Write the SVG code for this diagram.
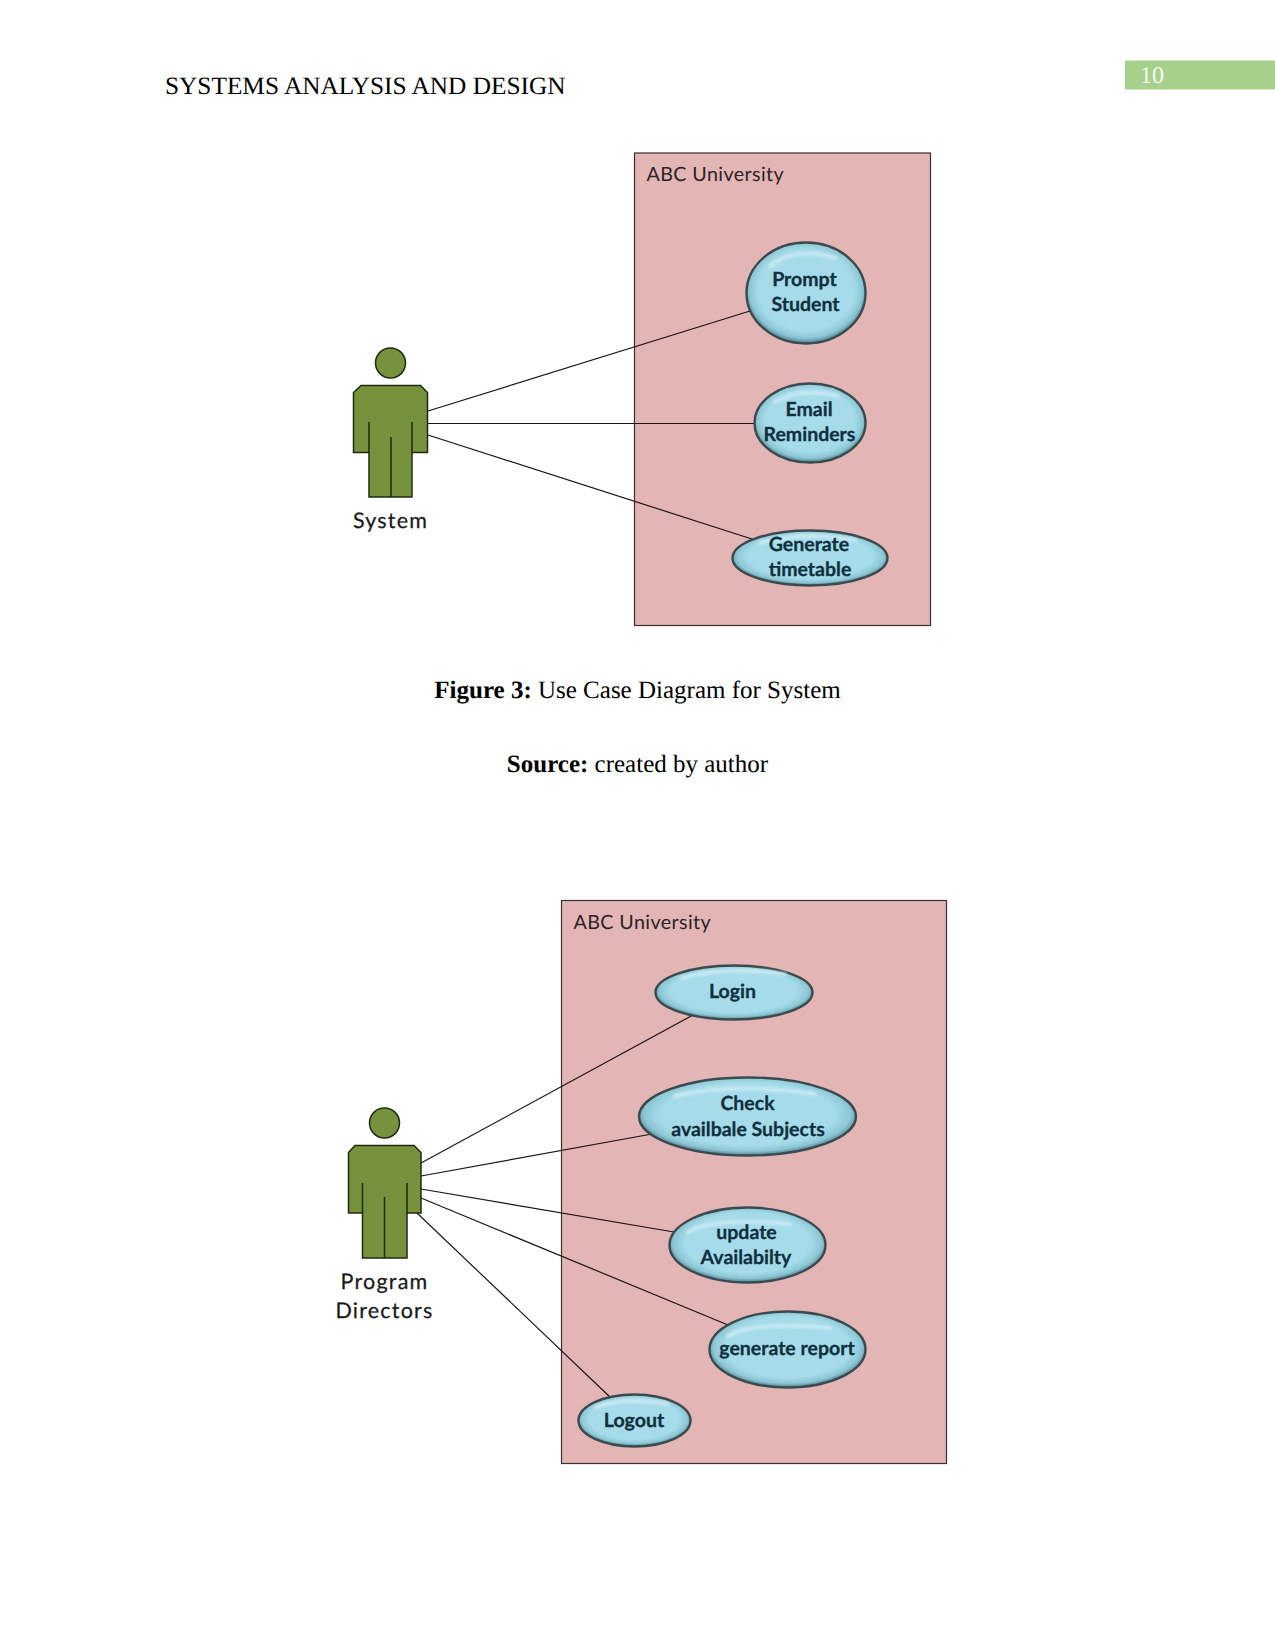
<svg xmlns="http://www.w3.org/2000/svg" width="1275" height="1651" viewBox="0 0 1275 1651">
<style>
text{text-rendering:geometricPrecision}
.page{font-family:"Liberation Serif","Times New Roman",serif;fill:#000;font-size:25px}
.boundary{fill:#e3b6b5;stroke:#3b2f33;stroke-width:1.2}
.boundary-label{font-family:Lato,"Liberation Sans",sans-serif;font-size:19.700px;fill:#2b2326;letter-spacing:.4px}
.actor{fill:#76923c;stroke:#1f2a12;stroke-width:1.5}
.actor-line{fill:none;stroke:#1f2a12;stroke-width:1.5}
.actor-label{font-family:Lato,"Liberation Sans",sans-serif;font-size:21.500px;fill:#1a1a1a;text-anchor:middle;letter-spacing:1.200px;stroke:#1a1a1a;stroke-width:.25}
.uc{fill:url(#ucFill);stroke:#3a4a4f;stroke-width:2.400}
.uc-shine{fill:none;stroke:#d3eef5;stroke-width:4;stroke-linecap:round;opacity:.7;filter:url(#soft)}
.uc-label{font-family:Lato,"Liberation Sans",sans-serif;font-weight:700;font-size:19.500px;fill:#10303f;text-anchor:middle;stroke:#10303f;stroke-width:.3}
.link{stroke:#1c1416;stroke-width:1.2;fill:none}
</style>
<defs>
<radialGradient id="ucFill" cx="50%" cy="47%" r="54%">
<stop offset="0" stop-color="#a6dce9"/>
<stop offset=".74" stop-color="#a6dce9"/>
<stop offset=".88" stop-color="#8cc6d4"/>
<stop offset="1" stop-color="#426f7b"/>
</radialGradient>
<filter id="soft" x="-20%" y="-100%" width="140%" height="300%"><feGaussianBlur stdDeviation="1.200"/></filter>
</defs>
<rect width="1275" height="1651" fill="#fff"/>

<g id="page-header">
<rect x="1125" y="60.500" width="150" height="29" fill="#a8d08d"/>
<text x="1140" y="83" font-family="Liberation Serif" font-size="24" fill="#f4f9ee">10</text>
<text class="page" x="165" y="94" textLength="400.500" lengthAdjust="spacingAndGlyphs">SYSTEMS ANALYSIS AND DESIGN</text>
</g>

<!-- first figure -->
<g id="boundary-1">
<rect class="boundary" x="634.500" y="153" width="296" height="472.500"/>
<text class="boundary-label" x="646.500" y="180.500">ABC University</text>
</g>
<g id="connectors-1">
<line class="link" x1="428" y1="411" x2="750" y2="311"/>
<line class="link" x1="428" y1="423.500" x2="755" y2="423.500"/>
<line class="link" x1="428" y1="435" x2="755" y2="540"/>
</g>
<g id="actor-system">
<circle class="actor" cx="390.500" cy="363" r="15"/>
<path class="actor" d="M361 385.500H420.500L427.500 392.500V452.500H412V497H369V452.500H353.500V392.500Z"/>
<path class="actor-line" d="M369 422V452.500M412 422V452.500M391 437V497"/>
<text class="actor-label" x="390.500" y="528">System</text>
</g>
<g id="uc-prompt">
<ellipse class="uc" cx="806" cy="293" rx="59.500" ry="50.500"/>
<path class="uc-shine" d="M770 266Q795 246 835 258"/>
<text class="uc-label" x="804.500" y="286">Prompt</text>
<text class="uc-label" x="805.500" y="311">Student</text>
</g>
<g id="uc-email">
<ellipse class="uc" cx="810" cy="423" rx="55.500" ry="39.500"/>
<path class="uc-shine" d="M775 402Q800 387 838 396"/>
<text class="uc-label" x="809" y="416">Email</text>
<text class="uc-label" x="809.500" y="441">Reminders</text>
</g>
<g id="uc-generate">
<ellipse class="uc" cx="810" cy="558" rx="77.500" ry="27.500"/>
<path class="uc-shine" d="M760 543Q800 531 855 540"/>
<text class="uc-label" x="809" y="551">Generate</text>
<text class="uc-label" x="810" y="575.500">timetable</text>
</g>

<g id="figure-3-caption">
<text class="page" x="637.500" y="698" text-anchor="middle"><tspan font-weight="700">Figure 3:</tspan> Use Case Diagram for System</text>
<text class="page" x="637.500" y="772" text-anchor="middle"><tspan font-weight="700">Source:</tspan> created by author</text>
</g>

<!-- second figure -->
<g id="boundary-2">
<rect class="boundary" x="561.500" y="900.500" width="385" height="563"/>
<text class="boundary-label" x="573.500" y="928.500">ABC University</text>
</g>
<g id="connectors-2">
<line class="link" x1="421" y1="1163" x2="693" y2="1015"/>
<line class="link" x1="421" y1="1176" x2="652" y2="1134"/>
<line class="link" x1="421" y1="1189" x2="674" y2="1232"/>
<line class="link" x1="421" y1="1198" x2="728" y2="1325"/>
<line class="link" x1="417" y1="1213" x2="611" y2="1398"/>
</g>
<g id="actor-directors">
<circle class="actor" cx="384.500" cy="1123" r="15"/>
<path class="actor" d="M355 1145.500H414L421 1152.500V1213H407V1258H362.500V1213H348.500V1152.500Z"/>
<path class="actor-line" d="M362.500 1183V1213M407 1183V1213M384.500 1197V1258"/>
<text class="actor-label" x="384.500" y="1289">Program</text>
<text class="actor-label" x="384.500" y="1318">Directors</text>
</g>
<g id="uc-login">
<ellipse class="uc" cx="734" cy="992.500" rx="78.500" ry="27"/>
<path class="uc-shine" d="M682 978Q725 966 785 974"/>
<text class="uc-label" x="732.500" y="998">Login</text>
</g>
<g id="uc-check">
<ellipse class="uc" cx="747.500" cy="1116.500" rx="108.500" ry="39"/>
<path class="uc-shine" d="M675 1096Q735 1082 815 1094"/>
<text class="uc-label" x="747.500" y="1109.500">Check</text>
<text class="uc-label" x="748" y="1135.500">availbale Subjects</text>
</g>
<g id="uc-update">
<ellipse class="uc" cx="747.500" cy="1245" rx="78" ry="37.500"/>
<path class="uc-shine" d="M688 1232Q715 1217 790 1224"/>
<text class="uc-label" x="746.500" y="1238.500">update</text>
<text class="uc-label" x="746" y="1263.500">Availabilty</text>
</g>
<g id="uc-report">
<ellipse class="uc" cx="787.500" cy="1349.500" rx="78" ry="38"/>
<path class="uc-shine" d="M728 1336Q755 1321 830 1328"/>
<text class="uc-label" x="787" y="1354.500">generate report</text>
</g>
<g id="uc-logout">
<ellipse class="uc" cx="634.500" cy="1420.500" rx="56" ry="26"/>
<path class="uc-shine" d="M596 1407Q625 1397 668 1404"/>
<text class="uc-label" x="634" y="1427">Logout</text>
</g>
</svg>
